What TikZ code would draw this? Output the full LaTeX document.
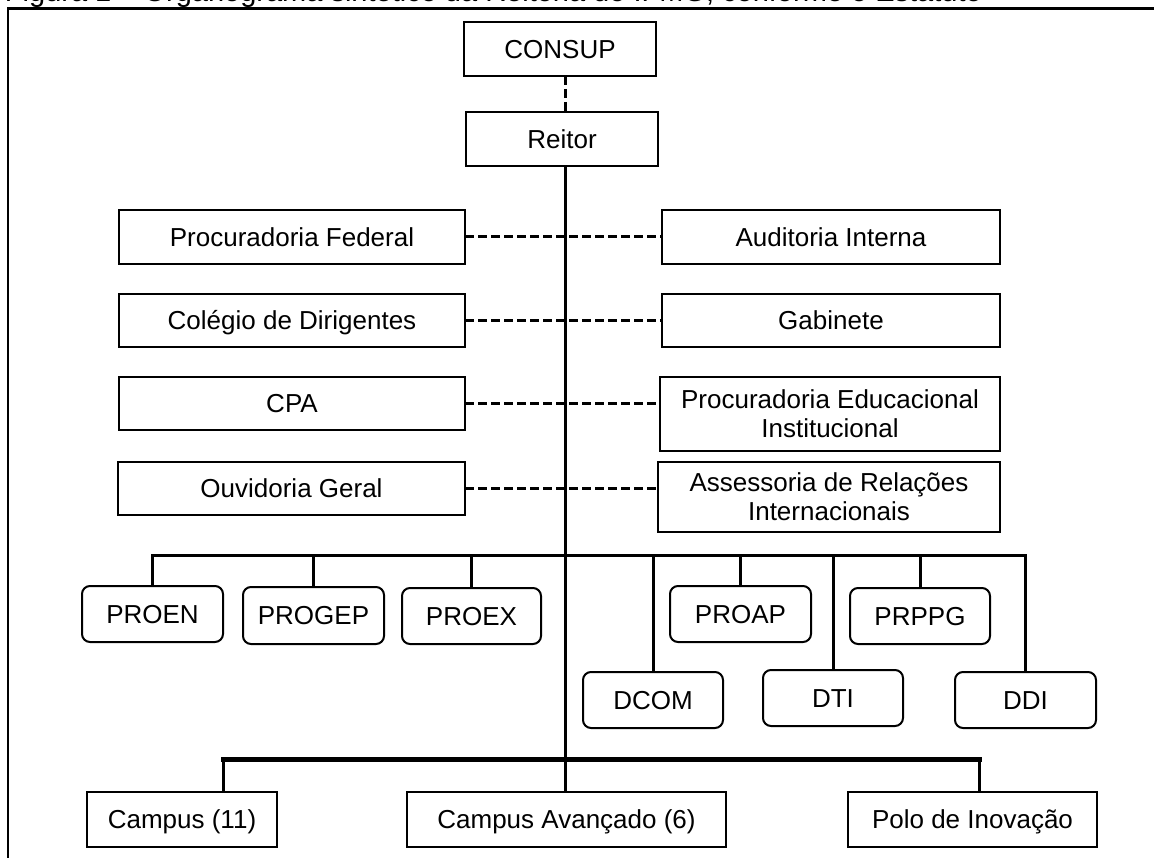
\documentclass[tikz,border=0pt]{standalone}
\usepackage{fontspec}
\setmainfont{Liberation Sans}
\begin{document}
\begin{tikzpicture}[x=1pt,y=-1pt,
  every node/.style={font=\fontsize{26}{29}\selectfont, align=center, inner sep=0pt, outer sep=0pt},
  framedbox/.style={draw, line width=2pt, anchor=north west},
  box/.style={framedbox, text height=18.6pt, text depth=0pt},
  tallbox/.style={framedbox},
  rbox/.style={box, rounded corners=8pt},
  link/.style={line width=3pt},
  heavylink/.style={line width=5pt},
  dashlink/.style={line width=3pt, dash pattern=on 9pt off 4pt},
  frame/.style={line width=2.5pt}]
\useasboundingbox (0,0) rectangle (1154,858);
\clip (0,0) rectangle (1154,858);

% caption, cut by the top of the page
\node[anchor=base west, font=\fontsize{29}{32}\selectfont] (caption) at (5,2)
  {Figura 1 -- Organograma sintético da Reitoria do IFMG, conforme o Estatuto};

% open frame around the chart
\coordinate (frametl) at (8,8.5);
\draw[frame] (frametl |- 0,870) -- (frametl) -- (1170,8.5);

% top of the hierarchy
\node[box, minimum width=192pt, minimum height=54pt] (consup) at (464,22) {CONSUP};
\node[box, minimum width=192pt, minimum height=54pt] (reitor) at (466,112) {Reitor};

% advisory bodies, left column
\node[box, minimum width=346pt, minimum height=54pt] (pf)  at (119,210) {Procuradoria Federal};
\node[box, minimum width=346pt, minimum height=53pt] (cd)  at (119,294) {Colégio de Dirigentes};
\node[box, minimum width=346pt, minimum height=53pt] (cpa) at (119,377) {CPA};
\node[box, minimum width=347pt, minimum height=53pt] (ouv) at (118,462) {Ouvidoria Geral};

% advisory bodies, right column
\node[box, minimum width=338pt, minimum height=54pt] (ai)  at (662,210) {Auditoria Interna};
\node[box, minimum width=338pt, minimum height=53pt] (gab) at (662,294) {Gabinete};
\node[tallbox, minimum width=340pt, minimum height=74pt] (pei) at (660,377) {Procuradoria Educacional\\Institucional};
\node[tallbox, minimum width=342pt, minimum height=70pt] (ari) at (658,462) {Assessoria de Relações\\Internacionais};

% pro-rectorates and directorates
\node[rbox, minimum width=141pt, minimum height=56pt] (proen)  at (82,586)  {PROEN};
\node[rbox, minimum width=141pt, minimum height=57pt] (progep) at (243,587) {PROGEP};
\node[rbox, minimum width=139pt, minimum height=56pt] (proex)  at (402,588) {PROEX};
\node[rbox, minimum width=141pt, minimum height=56pt] (proap)  at (670,586) {PROAP};
\node[rbox, minimum width=140pt, minimum height=56pt] (prppg)  at (850,588) {PRPPG};
\node[rbox, minimum width=140pt, minimum height=56pt] (dcom)   at (583,672) {DCOM};
\node[rbox, minimum width=140pt, minimum height=56pt] (dti)    at (763,670) {DTI};
\node[rbox, minimum width=141pt, minimum height=56pt] (ddi)    at (955,672) {DDI};

% campuses
\node[box, minimum width=190pt, minimum height=55pt] (campus) at (87,792)  {Campus (11)};
\node[box, minimum width=319pt, minimum height=55pt] (cav)    at (407,792) {Campus Avançado (6)};
\node[box, minimum width=249pt, minimum height=55pt] (polo)   at (848,792) {Polo de Inovação};

% main trunk
\coordinate (trunk) at (565,0);
\draw[dashlink] (consup.south -| trunk) -- (reitor.north -| trunk);
\draw[link] (reitor.south -| trunk) -- (cav.north -| trunk);

% dashed links between the advisory columns
\draw[dashlink] (pf.east) -- (ai.west);
\draw[dashlink] (cd.east) -- (gab.west);
\draw[dashlink] (cpa.east) -- (cpa.east -| pei.west);
\draw[dashlink] (ouv.east) -- (ouv.east -| ari.west);

% branch bar for pro-rectorates and directorates
\coordinate (bar) at (0,555);
\draw[link, line cap=rect] (proen.north |- bar) -- (ddi.north |- bar);
\foreach \n in {proen,progep,proex,proap,prppg,dcom,dti,ddi}
  \draw[link] (\n.north |- bar) -- (\n.north);

% branch bar for the campuses
\coordinate (barl) at (223,759);
\coordinate (barr) at (979,759);
\draw[heavylink, line cap=rect] (barl) -- (barr);
\draw[link] (barl) -- (barl |- campus.north);
\draw[link] (barr) -- (barr |- polo.north);
\end{tikzpicture}
\end{document}
